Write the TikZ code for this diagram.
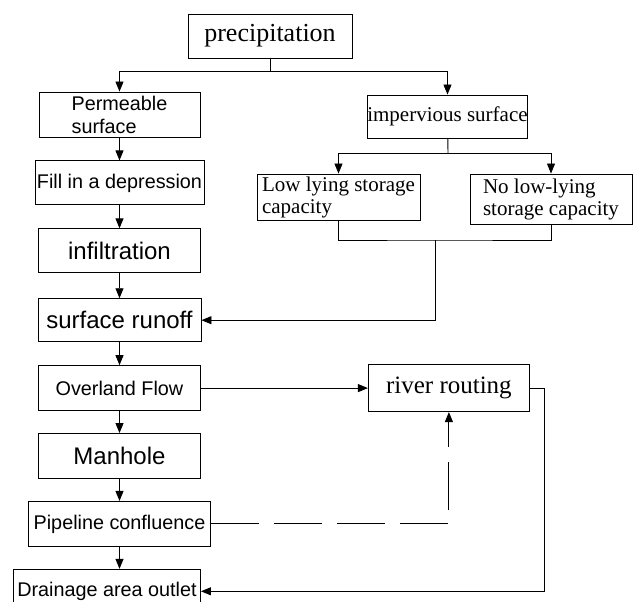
\documentclass[tikz,border=0pt]{standalone}
\usepackage{fontspec}
\setmainfont{Liberation Serif}
\setsansfont{Liberation Sans}
\usetikzlibrary{positioning,arrows.meta}
\tikzset{
  >={Triangle[length=10pt,width=8pt]},
  box/.style={draw,line width=0.9pt,inner sep=0pt,align=center},
  sfbox/.style={box,font=\sffamily\fontsize{19.8}{23}\selectfont},
  sfbig/.style={box,font=\sffamily\fontsize{24}{27}\selectfont},
  rmbox/.style={box,font=\rmfamily\fontsize{21}{22}\selectfont},
}

\begin{document}
\begin{tikzpicture}[
  x=1pt,y=-1pt,
  line width=0.9pt,
  every node/.style={minimum height=45pt}
]
\path[clip] (0,0) rectangle (633,602);

% top and the impervious branch
\node[rmbox,font=\rmfamily\fontsize{26}{28}\selectfont,minimum width=164pt,minimum height=44pt] (prec) at (270,36) {precipitation};
\node[sfbox,align=left,minimum width=161pt] (perm) at (119.5,114.5) {Permeable\\surface};
\node[rmbox,minimum width=159pt,minimum height=43pt] (imperv) at (447.5,116.5) {impervious surface};
\node[rmbox,align=left,minimum width=163pt,minimum height=46pt] (low) at (338.5,197) {Low lying storage\\capacity};
\node[rmbox,align=left,minimum width=162pt,minimum height=50pt] (nolow) at (551,199) {No low-lying\\storage capacity};

% left column
\node[sfbox,minimum width=169pt,minimum height=44pt,below=23pt of perm] (fill) {Fill in a depression};
\node[sfbig,minimum width=162pt,minimum height=44pt,below=23pt of fill] (infil) {infiltration};
\node[sfbig,minimum width=163pt,minimum height=43pt,below=25pt of infil] (runoff) {surface runoff};
\node[sfbox,minimum width=162pt,below=23pt of runoff] (over) {Overland Flow};
\node[sfbig,minimum width=162pt,below=22pt of over] (manh) {Manhole};
\node[sfbox,minimum width=182pt,below=22pt of manh] (pipe) {Pipeline confluence};
\node[sfbox,minimum width=187pt,minimum height=44pt,below=22pt of pipe,xshift=-12.5pt] (drain) {Drainage area outlet};
\node[rmbox,font=\rmfamily\fontsize{25}{27}\selectfont,minimum width=161pt,minimum height=47pt,right=167pt of over] (river) {river routing};

\coordinate (pj) at (270,71);
\coordinate (ij) at (448,153);
\coordinate (lj) at (435,240);

\draw (prec) -- (pj);
\draw[->] (pj) -| (perm);
\draw[->] (pj) -| (imperv);
\draw (imperv) -- (ij);
\draw[->] (ij) -| (low);
\draw[->] (ij) -| (nolow);
\draw (low) |- (lj) -| (nolow);
\draw[->] (lj) |- (runoff);

\path[->]
(perm) edge (fill)
(fill) edge (infil)
(infil) edge (runoff)
(runoff) edge (over)
(over) edge (manh)
(manh) edge (pipe)
(pipe.south) edge (pipe.south |- drain.north)
(over) edge (river);

\draw[->] (river.east) -- ++(15,0) |- (drain);
\draw[->,dash pattern=on 48pt off 15pt] (pipe) -| (river);

\end{tikzpicture}
\end{document}
